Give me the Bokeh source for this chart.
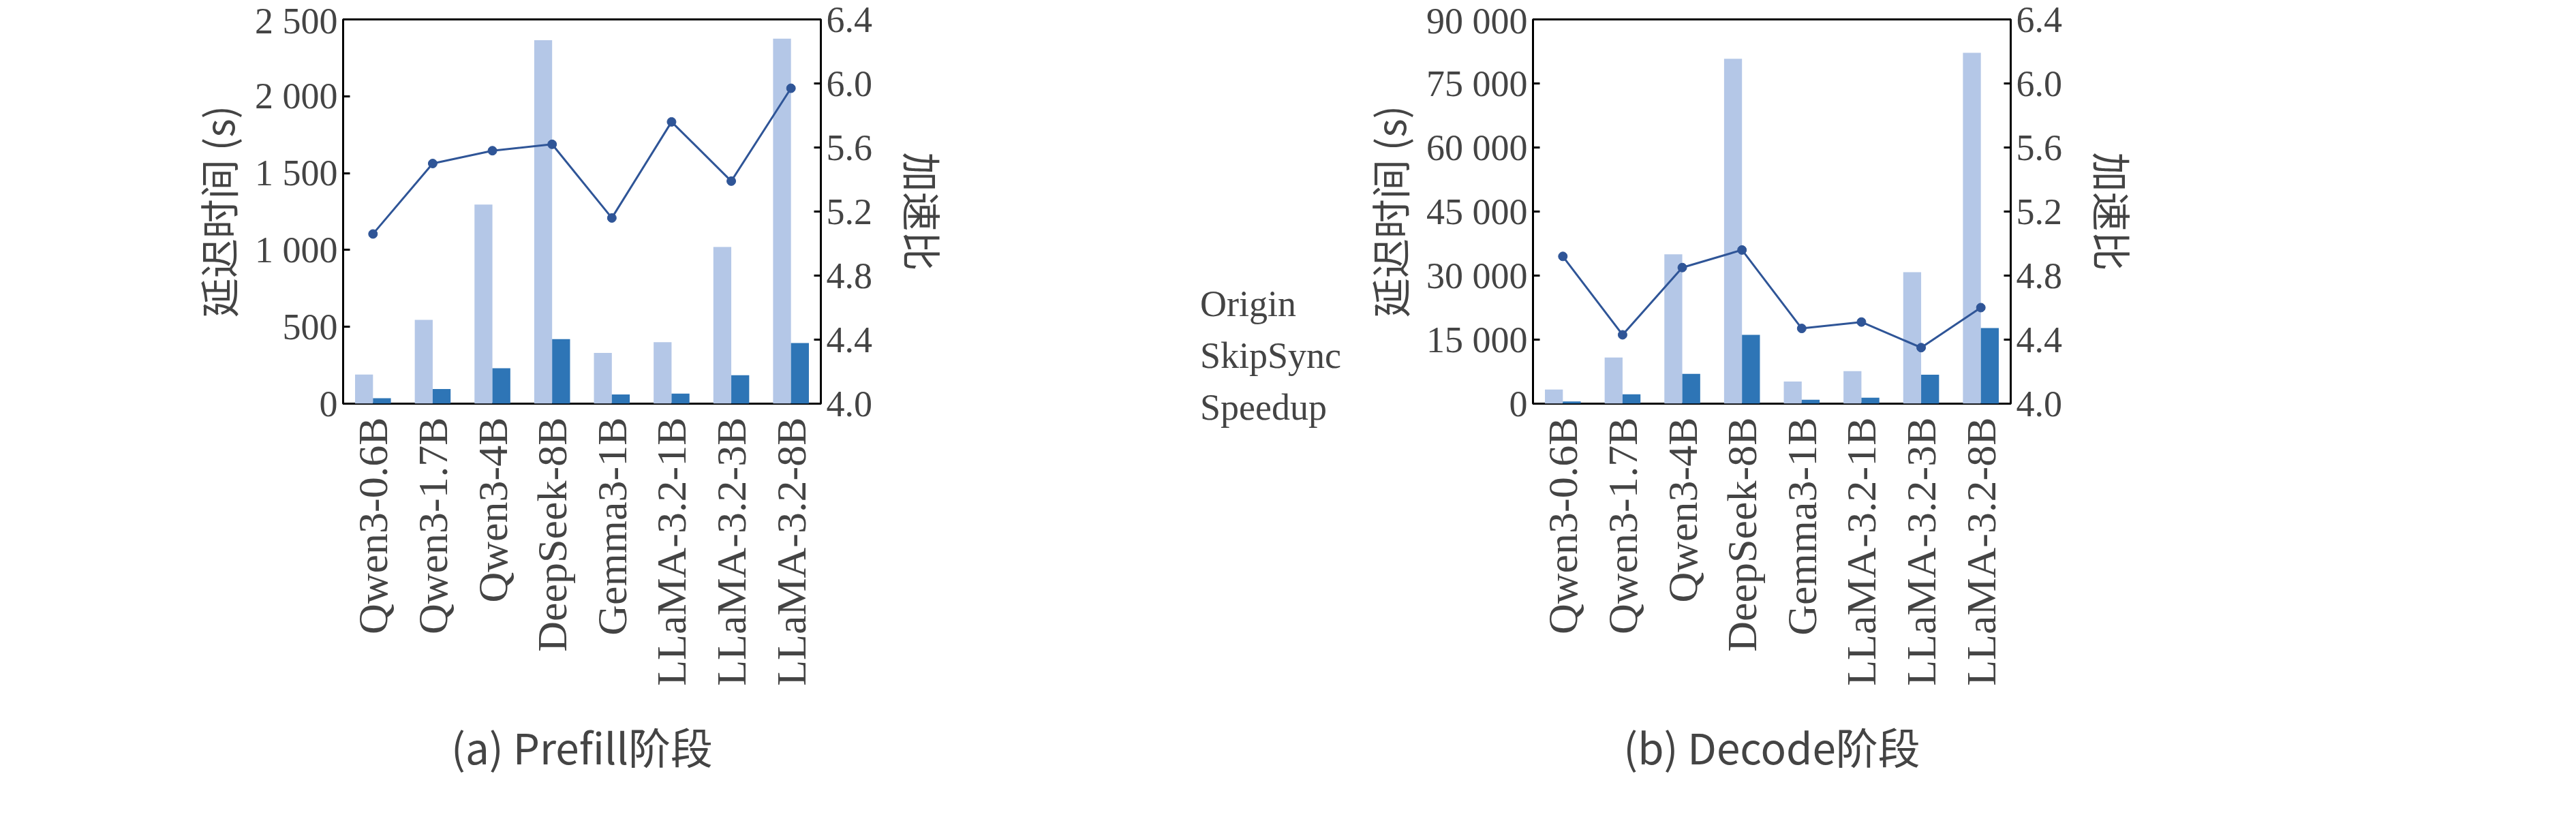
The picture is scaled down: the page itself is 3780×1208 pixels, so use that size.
import math
from bokeh.plotting import figure
from bokeh.models import (FactorRange, Range1d, LinearAxis, FixedTicker, Legend, LegendItem,
                          ColumnDataSource)
from bokeh.transform import dodge
from bokeh.layouts import row
from bokeh.embed import file_html
from bokeh.resources import INLINE

models = ["Qwen3-0.6B", "Qwen3-1.7B", "Qwen3-4B", "DeepSeek-8B", "Gemma3-1B",
          "LLaMA-3.2-1B", "LLaMA-3.2-3B", "LLaMA-3.2-8B"]
prefill_origin = [190, 545, 1295, 2365, 330, 400, 1020, 2375]
prefill_skip = [35, 95, 230, 420, 60, 65, 185, 395]
prefill_speedup = [5.06, 5.50, 5.58, 5.62, 5.16, 5.76, 5.39, 5.97]
decode_origin = [3300, 10800, 35000, 80800, 5200, 7600, 30800, 82200]
decode_skip = [500, 2200, 7000, 16100, 900, 1400, 6800, 17700]
decode_speedup = [4.92, 4.43, 4.85, 4.96, 4.47, 4.51, 4.35, 4.60]
prefill_ticks = [0, 500, 1000, 1500, 2000, 2500]
prefill_labels = ["0", "500", "1 000", "1 500", "2 000", "2 500"]
decode_ticks = [0, 15000, 30000, 45000, 60000, 75000, 90000]
decode_labels = ["0", "15 000", "30 000", "45 000", "60 000", "75 000", "90 000"]
speed_ticks = [4.0, 4.4, 4.8, 5.2, 5.6, 6.0, 6.4]
speed_labels = ["4.0", "4.4", "4.8", "5.2", "5.6", "6.0", "6.4"]

LIGHT = "#b4c7e7"
DARK = "#2e75b6"
LINE = "#2f5597"
SERIF = "Liberation Serif"
CJK = "Noto Sans CJK SC"
FS = "54px"
CAT_FS = "62px"
LAB_FS = "58px"


def style_axis(a, label):
    a.axis_label = label
    a.axis_label_text_font = CJK
    a.axis_label_text_font_style = "normal"
    a.axis_label_text_font_size = LAB_FS
    a.minor_tick_line_color = None
    a.major_tick_in = 10
    a.major_tick_out = 0
    a.major_tick_line_width = 3
    a.axis_line_color = None
    a.major_label_text_font = SERIF
    a.major_label_text_font_size = FS
    a.major_label_standoff = 8
    a.axis_label_standoff = 10


def panel(origin, skip, speed, yticks, ylabels, ymax, caption, left_b, right_b):
    src = ColumnDataSource(dict(m=models, o=origin, s=skip, v=speed))
    p = figure(x_range=FactorRange(*models, range_padding=0), y_range=Range1d(0, ymax),
               frame_width=701, frame_height=564, output_backend="svg",
               toolbar_location=None, min_border_left=left_b, min_border_right=right_b,
               min_border_top=28, min_border_bottom=5)
    p.extra_y_ranges = {"sp": Range1d(4.0, 6.4)}
    p.vbar(x=dodge("m", -0.15, range=p.x_range), top="o", width=0.3, source=src,
           color=LIGHT, line_color=None)
    p.vbar(x=dodge("m", 0.15, range=p.x_range), top="s", width=0.3, source=src,
           color=DARK, line_color=None)
    p.line(x="m", y="v", source=src, y_range_name="sp", line_color=LINE, line_width=3)
    p.scatter(x="m", y="v", source=src, y_range_name="sp", size=13, color=LINE)
    p.xgrid.visible = False
    p.ygrid.visible = False
    p.outline_line_color = "black"
    p.outline_line_width = 3

    ax = p.yaxis[0]
    ax.ticker = FixedTicker(ticks=yticks)
    ax.major_label_overrides = {t: l for t, l in zip(yticks, ylabels)}
    style_axis(ax, "延迟时间 (s)")

    ra = LinearAxis(y_range_name="sp", ticker=FixedTicker(ticks=speed_ticks))
    ra.major_label_overrides = {t: l for t, l in zip(speed_ticks, speed_labels)}
    style_axis(ra, "加速比")
    ra.axis_label_orientation = "vertical"
    ra.axis_label_standoff = 30
    p.add_layout(ra, "right")

    xa = p.xaxis[0]
    xa.major_label_orientation = math.pi / 2
    xa.major_label_text_font = SERIF
    xa.major_label_text_font_size = CAT_FS
    xa.major_tick_line_color = None
    xa.axis_line_color = None
    xa.major_label_standoff = 14
    xa.axis_label = caption
    xa.axis_label_text_font = CJK
    xa.axis_label_text_font_style = "normal"
    xa.axis_label_text_font_size = "62px"
    xa.axis_label_standoff = 40
    return p


p1 = panel(prefill_origin, prefill_skip, prefill_speedup, prefill_ticks, prefill_labels,
           2500, "(a) Prefill阶段", 503, 488)
p2 = panel(decode_origin, decode_skip, decode_speedup, decode_ticks, decode_labels,
           90000, "(b) Decode阶段", 234, 300)

# middle panel holding the shared legend
pm = figure(width=300, height=p1.frame_height + 28 + 592, output_backend="svg",
            toolbar_location=None, x_range=Range1d(0, 1), y_range=Range1d(0, 1),
            min_border=0)
pm.axis.visible = False
pm.grid.visible = False
pm.outline_line_color = None
empty = ColumnDataSource(dict(x=[], y=[]))
r1 = pm.vbar(x="x", top="y", width=0.1, source=empty, color=LIGHT, line_color=None)
r2 = pm.vbar(x="x", top="y", width=0.1, source=empty, color=DARK, line_color=None)
r3 = pm.line(x="x", y="y", source=empty, line_color=LINE, line_width=3)
r4 = pm.scatter(x="x", y="y", source=empty, size=13, color=LINE)
legend = Legend(items=[LegendItem(label="Origin", renderers=[r1]),
                       LegendItem(label="SkipSync", renderers=[r2]),
                       LegendItem(label="Speedup", renderers=[r3, r4])],
                location=(30, 5), orientation="vertical",
                label_text_font=SERIF, label_text_font_size=FS,
                glyph_width=34, glyph_height=30, spacing=14, padding=4,
                border_line_color=None, background_fill_alpha=0)
pm.add_layout(legend, "center")

layout = row(p1, pm, p2, spacing=0)
open("out.html", "w").write(file_html(layout, INLINE))
